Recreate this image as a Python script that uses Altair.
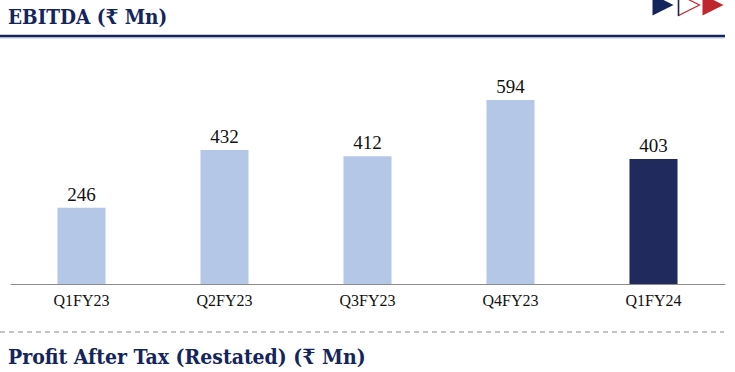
import altair as alt
import pandas as pd

quarters = ["Q1FY23", "Q2FY23", "Q3FY23", "Q4FY23", "Q1FY24"]
ebitda = [246, 432, 412, 594, 403]
highlight = [False, False, False, False, True]

df = pd.DataFrame({"q": quarters, "v": ebitda, "h": highlight})
one = pd.DataFrame({"a": [0]})

NAVY = "#14245c"
BAR_DARK = "#202a5c"
BAR_LIGHT = "#b4c7e7"
RED = "#c0272d"
FONT = "Liberation Serif"
TFONT = "DejaVu Serif Condensed, DejaVu Serif"

x = alt.X("q:N", sort=quarters, title=None,
          scale=alt.Scale(paddingInner=0.664, paddingOuter=0.332),
          axis=alt.Axis(labelAngle=0, labelFont=FONT, labelFontSize=16,
                        labelColor="#111111", ticks=False, tickSize=0,
                        labelPadding=8, domainColor="#8c8c8c", domainWidth=1,
                        grid=False))
y = alt.Y("v:Q", scale=alt.Scale(domain=[0, 755]), axis=None)

bars = alt.Chart(df).mark_bar().encode(
    x=x, y=y,
    color=alt.Color("h:N", scale=alt.Scale(domain=[False, True], range=[BAR_LIGHT, BAR_DARK]), legend=None),
)
labels = alt.Chart(df).mark_text(baseline="bottom", dy=-3, font=FONT, fontSize=19, color="#111111").encode(
    x=x, y=y, text=alt.Text("v:Q")
)

title1 = alt.Chart(one).mark_text(align="left", baseline="alphabetic", font=TFONT, fontSize=20.5,
                                  fontWeight="bold", color=NAVY).encode(
    x=alt.value(-2), y=alt.value(-26), text=alt.value("EBITDA (₹ Mn)"))
underline = alt.Chart(one).mark_rule(color=NAVY, strokeWidth=2.5).encode(
    x=alt.value(-10), x2=alt.value(715), y=alt.value(-14))
underline2 = alt.Chart(one).mark_rule(color="#c5cde0", strokeWidth=1).encode(
    x=alt.value(-10), x2=alt.value(715), y=alt.value(-12))
dashed = alt.Chart(one).mark_rule(color="#b0b0b0", strokeWidth=1.5, strokeDash=[5, 4]).encode(
    x=alt.value(-10), x2=alt.value(714), y=alt.value(282))
title2 = alt.Chart(one).mark_text(align="left", baseline="alphabetic", font=TFONT, fontSize=21,
                                  fontWeight="bold", color=NAVY).encode(
    x=alt.value(-2), y=alt.value(314), text=alt.value("Profit After Tax (Restated) (₹ Mn)"))

TRI = "M-1,-1L1,0L-1,1Z"
tri1 = alt.Chart(one).mark_point(shape=TRI, filled=True, opacity=1, color=NAVY, size=440).encode(
    x=alt.value(653), y=alt.value(-45))
tri2 = alt.Chart(one).mark_point(shape=TRI, filled=False, opacity=1, color=RED, strokeWidth=1.2, size=440).encode(
    x=alt.value(679), y=alt.value(-45))
tri2l = alt.Chart(one).mark_rule(color=NAVY, strokeWidth=1.5).encode(
    x=alt.value(668.5), y=alt.value(-56), y2=alt.value(-34))
tri3 = alt.Chart(one).mark_point(shape=TRI, filled=True, opacity=1, color=RED, size=440).encode(
    x=alt.value(703), y=alt.value(-45))

chart = alt.layer(bars, labels, title1, underline2, underline, dashed, title2, tri1, tri2, tri2l, tri3).properties(
    width=715, height=234,
    background="white",
    autosize=alt.AutoSizeParams(type="none"),
    padding={"left": 10, "top": 50, "right": 10, "bottom": 88},
).configure_view(strokeWidth=0)

chart.save("out.html", embed_options={"renderer": "svg", "actions": False})
